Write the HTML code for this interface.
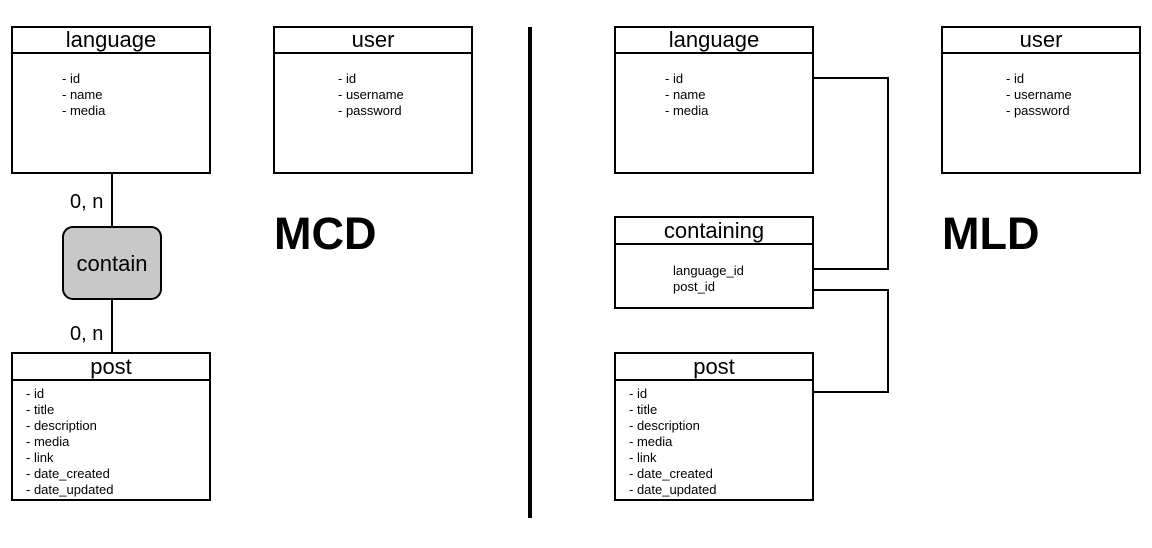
<!DOCTYPE html>
<html><head><style>html,body{margin:0;padding:0;background:#fff}svg{display:block}</style></head>
<body>
<svg width="1152" height="548" xmlns="http://www.w3.org/2000/svg" font-family="Liberation Sans, sans-serif">
<g fill="#fff" stroke="#000" stroke-width="2">
<rect x="12" y="27" width="198" height="146"/><line x1="12" y1="53" x2="210" y2="53"/>
<rect x="274" y="27" width="198" height="146"/><line x1="274" y1="53" x2="472" y2="53"/>
<rect x="12" y="353" width="198" height="147"/><line x1="12" y1="380" x2="210" y2="380"/>
<line x1="112" y1="173" x2="112" y2="227"/><line x1="112" y1="299" x2="112" y2="353"/>
<rect x="63" y="227" width="98" height="72" rx="10" fill="#c8c8c8"/>
<rect x="615" y="27" width="198" height="146"/><line x1="615" y1="53" x2="813" y2="53"/>
<rect x="942" y="27" width="198" height="146"/><line x1="942" y1="53" x2="1140" y2="53"/>
<rect x="615" y="217" width="198" height="91"/><line x1="615" y1="244" x2="813" y2="244"/>
<rect x="615" y="353" width="198" height="147"/><line x1="615" y1="380" x2="813" y2="380"/>
<polyline fill="none" points="813,78 888,78 888,269 813,269"/>
<polyline fill="none" points="813,290 888,290 888,392 813,392"/>
</g>
<rect x="528" y="27" width="4" height="491" fill="#000"/>
<g font-size="22" text-anchor="middle" fill="#000">
<text x="111" y="47">language</text><text x="373" y="47">user</text><text x="111" y="374">post</text>
<text x="112" y="271">contain</text>
<text x="714" y="47">language</text><text x="1041" y="47">user</text><text x="714" y="238">containing</text><text x="714" y="374">post</text>
</g>
<g font-size="20"><text x="70" y="208">0, n</text><text x="70" y="340">0, n</text></g>
<g font-size="45" font-weight="bold"><text x="274" y="249">MCD</text><text x="942" y="249">MLD</text></g>
<g font-size="13">
<text x="62" y="83">- id</text><text x="62" y="99">- name</text><text x="62" y="115">- media</text>
<text x="338" y="83">- id</text><text x="338" y="99">- username</text><text x="338" y="115">- password</text>
<text x="665" y="83">- id</text><text x="665" y="99">- name</text><text x="665" y="115">- media</text>
<text x="1006" y="83">- id</text><text x="1006" y="99">- username</text><text x="1006" y="115">- password</text>
<text x="673" y="275">language_id</text><text x="673" y="291">post_id</text>
<g id="p"><text x="26" y="398">- id</text><text x="26" y="414">- title</text><text x="26" y="430">- description</text><text x="26" y="446">- media</text><text x="26" y="462">- link</text><text x="26" y="478">- date_created</text><text x="26" y="494">- date_updated</text></g>
<g transform="translate(603,0)"><text x="26" y="398">- id</text><text x="26" y="414">- title</text><text x="26" y="430">- description</text><text x="26" y="446">- media</text><text x="26" y="462">- link</text><text x="26" y="478">- date_created</text><text x="26" y="494">- date_updated</text></g>
</g>
</svg>
</body></html>
